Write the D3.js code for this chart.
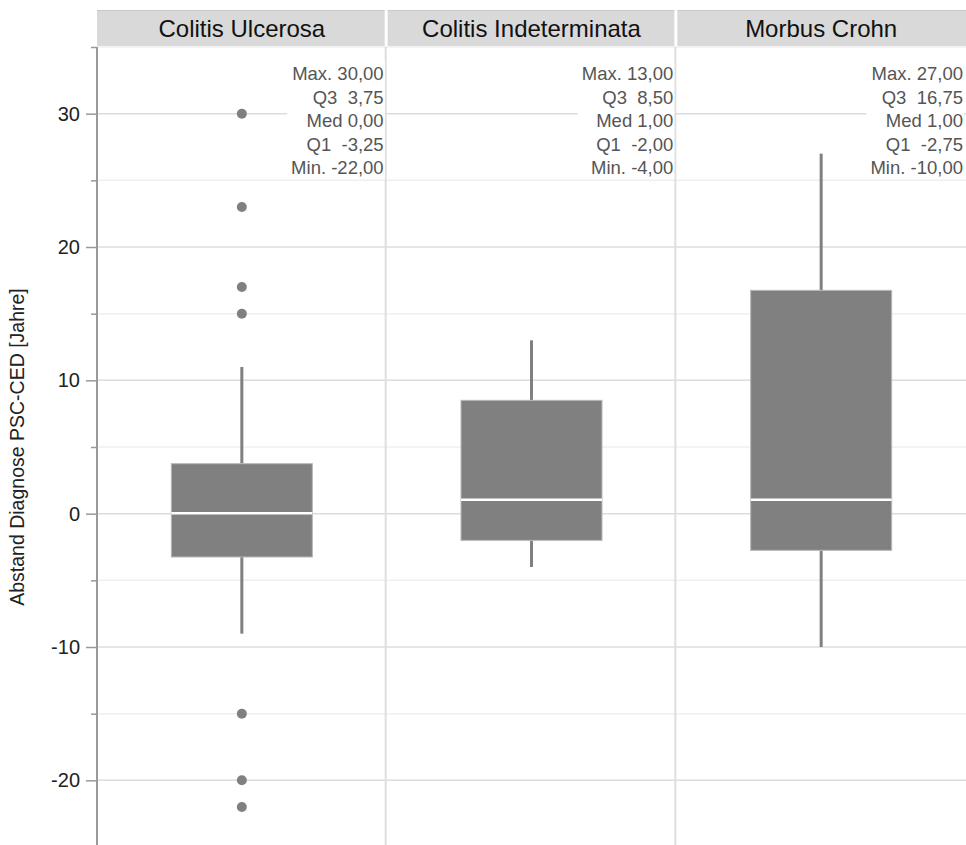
<!DOCTYPE html>
<html>
<head>
<meta charset="utf-8">
<script src="https://cdn.jsdelivr.net/npm/d3@7"></script>
<style>
  html, body { margin: 0; padding: 0; background: #fff; }
  svg { display: block; font-family: "Liberation Sans", Arial, Helvetica, sans-serif; }
</style>
</head>
<body>
<svg id="chart" width="966" height="845"></svg>
<script>
// Groups (one panel each)
const categories = ["Colitis Ulcerosa", "Colitis Indeterminata", "Morbus Crohn"];

// Box statistics per group
const q1Values      = [-3.25, -2.00, -2.75];
const medianValues  = [0.00, 1.00, 1.00];
const q3Values      = [3.75, 8.50, 16.75];
const whiskerLow    = [-9, -4, -10];
const whiskerHigh   = [11, 13, 27];
const minValues     = [-22.00, -4.00, -10.00];
const maxValues     = [30.00, 13.00, 27.00];

// Points outside the whiskers
const outlierValues = [
  [30, 23, 17, 15, -15, -20, -22],
  [],
  []
];

// Axis
const yDomain = [-25, 35];
const majorTicks = [-20, -10, 0, 10, 20, 30];
const minorTicks = [-25, -15, -5, 5, 15, 25, 35];
const yTitle = "Abstand Diagnose PSC-CED [Jahre]";

const svg = d3.select("#chart");
const W = 966, H = 845;
const plotLeft = 97, plotRight = 966, plotTop = 47, plotBottom = 847;
const headerTop = 10, headerBottom = 46;

const y = d3.scaleLinear().domain(yDomain).range([plotBottom, plotTop]);
const x = d3.scaleBand().domain(categories).range([plotLeft, plotRight]).paddingInner(0);

// decimal comma, plain hyphen for negatives
const fmt = v => v.toFixed(2).replace(".", ",");

// Horizontal grid lines
const grid = svg.append("g");
grid.selectAll("line.minor").data(minorTicks).join("line")
  .attr("x1", plotLeft).attr("x2", plotRight)
  .attr("y1", d => y(d)).attr("y2", d => y(d))
  .attr("stroke", "#efefef").attr("stroke-width", 1.5);
grid.selectAll("line.major").data(majorTicks).join("line")
  .attr("x1", plotLeft).attr("x2", plotRight)
  .attr("y1", d => y(d)).attr("y2", d => y(d))
  .attr("stroke", "#dcdcdc").attr("stroke-width", 1.5);

// Panel separators
svg.append("g").selectAll("line").data(categories.slice(1)).join("line")
  .attr("x1", d => x(d) - 1).attr("x2", d => x(d) - 1)
  .attr("y1", plotTop).attr("y2", H)
  .attr("stroke", "#dedede").attr("stroke-width", 2);

// Statistics text per panel, on a white backing
const statsG = svg.append("g");
categories.forEach((c, i) => {
  const rx = x(c) + x.bandwidth() - 3;
  const lines = [
    "Max. " + fmt(maxValues[i]),
    "Q3  " + fmt(q3Values[i]),
    "Med " + fmt(medianValues[i]),
    "Q1  " + fmt(q1Values[i]),
    "Min. " + fmt(minValues[i])
  ];
  const g = statsG.append("g");
  const bg = g.append("rect").attr("fill", "#fff");
  g.selectAll("text").data(lines).join("text")
    .attr("x", rx)
    .attr("y", (d, k) => 80 + k * 23.6)
    .attr("text-anchor", "end")
    .attr("font-size", 18.5)
    .attr("fill", "#555")
    .style("white-space", "pre")
    .attr("xml:space", "preserve")
    .text(d => d);
  const bb = g.node().getBBox();
  bg.attr("x", bb.x - 4).attr("y", bb.y - 2)
    .attr("width", x(c) + x.bandwidth() - 2 - (bb.x - 4))
    .attr("height", bb.height + 2);
});

// Boxes
const boxW = 141;
const marks = svg.append("g");
categories.forEach((c, i) => {
  const cx = x(c) + x.bandwidth() / 2;
  const col = "#808080";
  // whiskers
  marks.append("line")
    .attr("x1", cx).attr("x2", cx)
    .attr("y1", y(q3Values[i])).attr("y2", y(whiskerHigh[i]))
    .attr("stroke", col).attr("stroke-width", 3);
  marks.append("line")
    .attr("x1", cx).attr("x2", cx)
    .attr("y1", y(q1Values[i])).attr("y2", y(whiskerLow[i]))
    .attr("stroke", col).attr("stroke-width", 3);
  // box
  marks.append("rect")
    .attr("x", cx - boxW / 2).attr("width", boxW)
    .attr("y", y(q3Values[i]))
    .attr("height", y(q1Values[i]) - y(q3Values[i]))
    .attr("fill", col).attr("stroke", "#b8b8b8").attr("stroke-width", 1);
  // median
  marks.append("line")
    .attr("x1", cx - boxW / 2).attr("x2", cx + boxW / 2)
    .attr("y1", y(medianValues[i]) - 0.5).attr("y2", y(medianValues[i]) - 0.5)
    .attr("stroke", "#fff").attr("stroke-width", 2.5);
  // outliers
  marks.selectAll(null).data(outlierValues[i]).join("circle")
    .attr("cx", cx).attr("cy", d => y(d)).attr("r", 5)
    .attr("fill", col);
});

// Panel headers
const head = svg.append("g");
categories.forEach((c, i) => {
  const x0 = x(c) + (i === 0 ? 0 : 1);
  const x1 = x(c) + x.bandwidth() - (i === categories.length - 1 ? 0 : 2);
  head.append("rect")
    .attr("x", x0).attr("y", headerTop)
    .attr("width", x1 - x0).attr("height", headerBottom - headerTop)
    .attr("fill", "#d9d9d9");
  head.append("line")
    .attr("x1", x0).attr("x2", x1).attr("y1", headerTop + 0.5).attr("y2", headerTop + 0.5)
    .attr("stroke", "#c8c8c8").attr("stroke-width", 1);
  head.append("text")
    .attr("x", x(c) + x.bandwidth() / 2)
    .attr("y", 37)
    .attr("text-anchor", "middle")
    .attr("font-size", 24)
    .attr("fill", "#111")
    .text(c);
});

// Y axis
const axisG = svg.append("g").attr("transform", `translate(${plotLeft},0)`);
axisG.append("g")
  .call(d3.axisLeft(y).tickValues(majorTicks).tickSize(11).tickPadding(6).tickFormat(d => String(d)))
  .call(g => g.select(".domain").remove())
  .call(g => g.selectAll(".tick line").attr("stroke", "#999").attr("stroke-width", 1.5))
  .call(g => g.selectAll(".tick text").attr("font-size", 20).attr("fill", "#222")
    .attr("font-family", "Liberation Sans, Arial, sans-serif"));
axisG.append("g")
  .call(d3.axisLeft(y).tickValues(minorTicks).tickSize(6).tickFormat(""))
  .call(g => g.select(".domain").remove())
  .call(g => g.selectAll(".tick line").attr("stroke", "#999").attr("stroke-width", 1.5));
axisG.append("line")
  .attr("x1", 0).attr("x2", 0).attr("y1", plotTop).attr("y2", H)
  .attr("stroke", "#999").attr("stroke-width", 2);

svg.append("text")
  .attr("transform", `translate(24,${(plotTop + plotBottom) / 2}) rotate(-90)`)
  .attr("text-anchor", "middle")
  .attr("font-size", 19.5)
  .attr("fill", "#222")
  .text(yTitle);
</script>
</body>
</html>
